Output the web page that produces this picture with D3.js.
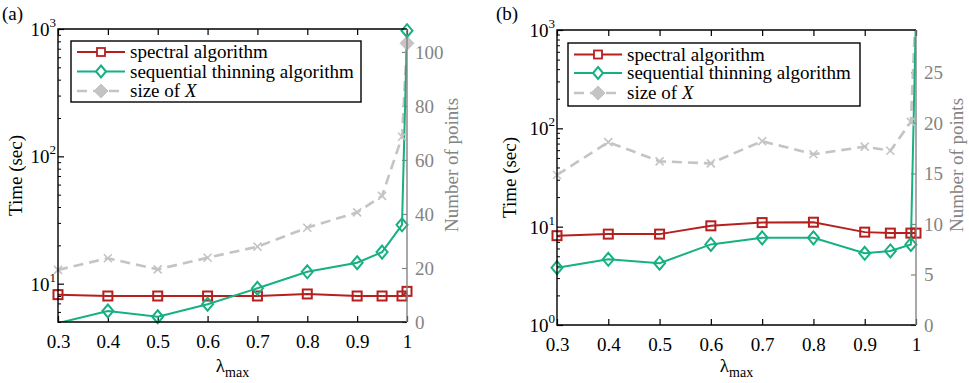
<!DOCTYPE html>
<html>
<head>
<meta charset="utf-8">
<script src="https://cdn.jsdelivr.net/npm/d3@7"></script>
<style>
  body { margin: 0; background: #fff; }
  svg text { font-family: "Liberation Serif", "Times New Roman", Times, "DejaVu Serif", serif !important; }
</style>
</head>
<body>
<div id="chart"></div>
<script>
// dimensions de la figure
const width = 969, height = 383;

// valeurs de lambda_max
const lambdas = [0.3, 0.4, 0.5, 0.6, 0.7, 0.8, 0.9, 0.95, 0.99, 1];
const xTicks = [0.3, 0.4, 0.5, 0.6, 0.7, 0.8, 0.9, 1];

// panneau (a)
const spectralA = [8.2, 8.0, 8.0, 8.0, 8.0, 8.3, 8.0, 8.0, 8.0, 8.7];
const thinningA = [4.9, 6.1, 5.5, 6.9, 9.2, 12.4, 14.6, 17.7, 29, 970];
const sizeA = [19.3, 23.6, 19.5, 23.8, 27.9, 34.9, 40.6, 46.7, 68.6, 103.2];
const timeTicksA = [1, 2, 3];          // exposants 10^k
const pointTicksA = [0, 20, 40, 60, 80, 100];

// panneau (b)
const spectralB = [8.1, 8.4, 8.4, 10.2, 11.0, 11.1, 8.8, 8.6, 8.6, 8.6];
const thinningB = [3.83, 4.66, 4.25, 6.6, 7.7, 7.7, 5.36, 5.66, 6.6, 1500];
const sizeB = [14.85, 18.1, 16.2, 16.0, 18.2, 16.9, 17.65, 17.25, 20.1, 32];
const timeTicksB = [0, 1, 2, 3];
const pointTicksB = [0, 5, 10, 15, 20, 25];

const legendLabels = ["spectral algorithm", "sequential thinning algorithm", "size of "];

const red = "#b5201f", green = "#17b083", grey = "#c4c4c4", axisGrey = "#848484";
const serif = "'Liberation Serif', 'Times New Roman', Times, 'DejaVu Serif', serif";

const svg = d3.select("#chart").append("svg")
    .attr("width", width)
    .attr("height", height)
    .attr("font-family", serif);
svg.append("rect").attr("width", width).attr("height", height).attr("fill", "#fff");

const panels = [
  { id: "a", tag: "(a)", tagX: 2, left: 58, right: 407, top: 29, bottom: 322,
    yDomain: [5, 1000], y2Domain: [0, 108.5],
    spectral: spectralA, thinning: thinningA, size: sizeA,
    timeTicks: timeTicksA, pointTicks: pointTicksA,
    legend: { x: 71, y: 41, w: 290, h: 61, rows: [52, 71.5, 91] },
    timeLabelX: 16, pointLabelX: 452, pointLabelY: 165 },
  { id: "b", tag: "(b)", tagX: 496, left: 557, right: 916, top: 30, bottom: 325,
    yDomain: [1, 1000], y2Domain: [0, 29.2],
    spectral: spectralB, thinning: thinningB, size: sizeB,
    timeTicks: timeTicksB, pointTicks: pointTicksB,
    legend: { x: 568, y: 43, w: 292, h: 63, rows: [54.5, 73, 93] },
    timeLabelX: 510, pointLabelX: 957, pointLabelY: 165 }
];

panels.forEach(p => {
  const g = svg.append("g");
  const x = d3.scaleLinear().domain([0.3, 1]).range([p.left, p.right]);
  const y = d3.scaleLog().domain(p.yDomain).range([p.bottom, p.top]);
  const y2 = d3.scaleLinear().domain(p.y2Domain).range([p.bottom, p.top]);

  g.append("clipPath").attr("id", "clip-" + p.id)
    .append("rect")
    .attr("x", p.left).attr("y", p.top)
    .attr("width", p.right - p.left).attr("height", p.bottom - p.top);

  // axe du bas
  const xAxis = g.append("g")
    .attr("transform", `translate(0,${p.bottom})`)
    .call(d3.axisBottom(x).tickValues(xTicks).tickSize(-6).tickPadding(13)
      .tickFormat(d => d === 1 ? "1" : d3.format(".1f")(d)));
  xAxis.attr("font-family", serif).attr("font-size", 19);
  xAxis.select(".domain").remove();
  xAxis.selectAll("line").attr("stroke", "#000").attr("stroke-width", 1.2);
  xAxis.selectAll("text").attr("fill", "#000");

  // axe du haut
  const topAxis = g.append("g")
    .attr("transform", `translate(0,${p.top})`)
    .call(d3.axisTop(x).tickValues(xTicks).tickSize(-6).tickFormat(""));
  topAxis.select(".domain").remove();
  topAxis.selectAll("line").attr("stroke", "#000").attr("stroke-width", 1.2);

  // axe gauche (log)
  const [lo, hi] = p.yDomain;
  const minors = [];
  for (let e = Math.floor(Math.log10(lo)); e < Math.log10(hi); e++) {
    for (let m = 2; m <= 9; m++) {
      const v = m * Math.pow(10, e);
      if (v >= lo && v <= hi) minors.push(v);
    }
  }
  const minorAxis = g.append("g")
    .attr("transform", `translate(${p.left},0)`)
    .call(d3.axisLeft(y).tickValues(minors).tickSize(-3).tickFormat(""));
  minorAxis.select(".domain").remove();
  minorAxis.selectAll("line").attr("stroke", "#000").attr("stroke-width", 1);

  const majors = p.timeTicks.map(k => Math.pow(10, k));
  const yAxis = g.append("g")
    .attr("transform", `translate(${p.left},0)`)
    .call(d3.axisLeft(y).tickValues(majors).tickSize(-6).tickFormat(""));
  yAxis.select(".domain").remove();
  yAxis.selectAll("line").attr("stroke", "#000").attr("stroke-width", 1.2);

  p.timeTicks.forEach(k => {
    const t = g.append("text")
      .attr("x", p.left - 2)
      .attr("y", y(Math.pow(10, k)) + 7)
      .attr("text-anchor", "end")
      .attr("font-size", 19);
    t.append("tspan").text("10");
    t.append("tspan").attr("font-size", 13).attr("dy", -9).text(k);
  });

  // axe droit (nombre de points)
  const rAxis = g.append("g")
    .attr("transform", `translate(${p.right},0)`)
    .call(d3.axisRight(y2).tickValues(p.pointTicks).tickSize(-5).tickPadding(8));
  rAxis.attr("font-family", serif).attr("font-size", 19);
  rAxis.select(".domain").remove();
  rAxis.selectAll("line").attr("stroke", axisGrey).attr("stroke-width", 1.2);
  rAxis.selectAll("text").attr("fill", axisGrey);

  // séries
  const plot = g.append("g").attr("clip-path", `url(#clip-${p.id})`);

  const sizeLine = d3.line().x((d, i) => x(lambdas[i])).y(d => y2(d));
  plot.append("path").datum(p.size)
    .attr("d", sizeLine)
    .attr("fill", "none").attr("stroke", grey)
    .attr("stroke-width", 2.6).attr("stroke-dasharray", "10,6");

  const timeLine = d3.line().x((d, i) => x(lambdas[i])).y(d => y(d));
  plot.append("path").datum(p.spectral)
    .attr("d", timeLine)
    .attr("fill", "none").attr("stroke", red).attr("stroke-width", 2);
  plot.append("path").datum(p.thinning)
    .attr("d", timeLine)
    .attr("fill", "none").attr("stroke", green).attr("stroke-width", 2);

  const inY = (v, s) => { const d = s.domain(); return v >= d[0] && v <= d[1]; };

  // marqueurs gris (croix, losange plein au dernier point)
  p.size.forEach((v, i) => {
    if (!inY(v, y2)) return;
    const cx = x(lambdas[i]), cy = y2(v);
    if (i === p.size.length - 1) {
      g.append("path")
        .attr("d", `M${cx},${cy - 7}L${cx + 7},${cy}L${cx},${cy + 7}L${cx - 7},${cy}Z`)
        .attr("fill", grey).attr("stroke", grey);
    } else {
      g.append("path")
        .attr("d", `M${cx - 4},${cy - 4}L${cx + 4},${cy + 4}M${cx - 4},${cy + 4}L${cx + 4},${cy - 4}`)
        .attr("stroke", grey).attr("stroke-width", 1.6);
    }
  });

  p.spectral.forEach((v, i) => {
    if (!inY(v, y)) return;
    const cx = x(lambdas[i]), cy = y(v);
    g.append("rect")
      .attr("x", cx - 4.5).attr("y", cy - 4.5)
      .attr("width", 9).attr("height", 9)
      .attr("fill", "none").attr("stroke", red).attr("stroke-width", 2);
  });

  p.thinning.forEach((v, i) => {
    if (!inY(v, y)) return;
    const cx = x(lambdas[i]), cy = y(v);
    g.append("path")
      .attr("d", `M${cx},${cy - 6.5}L${cx + 5.5},${cy}L${cx},${cy + 6.5}L${cx - 5.5},${cy}Z`)
      .attr("fill", "none").attr("stroke", green).attr("stroke-width", 2);
  });

  // cadre
  g.append("path")
    .attr("d", `M${p.right},${p.top}H${p.left}V${p.bottom}H${p.right}`)
    .attr("fill", "none").attr("stroke", "#000").attr("stroke-width", 1.4);
  g.append("line")
    .attr("x1", p.right).attr("x2", p.right)
    .attr("y1", p.top).attr("y2", p.bottom)
    .attr("stroke", axisGrey).attr("stroke-width", 1.4);

  // titres des axes
  const xl = g.append("text")
    .attr("x", (p.left + p.right) / 2)
    .attr("y", 372)
    .attr("text-anchor", "middle")
    .attr("font-size", 19);
  xl.append("tspan").text("λ");
  xl.append("tspan").attr("font-size", 14).attr("dy", 5).text("max");

  g.append("text")
    .attr("transform", `translate(${p.timeLabelX + 6},${(p.top + p.bottom) / 2}) rotate(-90)`)
    .attr("text-anchor", "middle")
    .attr("font-size", 19)
    .text("Time (sec)");

  g.append("text")
    .attr("transform", `translate(${p.pointLabelX + 6},${p.pointLabelY}) rotate(-90)`)
    .attr("text-anchor", "middle")
    .attr("font-size", 19)
    .attr("fill", axisGrey)
    .text("Number of points");

  g.append("text")
    .attr("x", p.tagX).attr("y", 20)
    .attr("font-size", 19)
    .text(p.tag);

  // légende
  const L = p.legend;
  g.append("rect")
    .attr("x", L.x).attr("y", L.y).attr("width", L.w).attr("height", L.h)
    .attr("fill", "#fff").attr("stroke", "#000").attr("stroke-width", 1.4);
  const sx0 = L.x + 6, sx1 = L.x + 54, mx = (sx0 + sx1) / 2, tx = L.x + 59;

  g.append("line").attr("x1", sx0).attr("x2", sx1).attr("y1", L.rows[0]).attr("y2", L.rows[0])
    .attr("stroke", red).attr("stroke-width", 2);
  g.append("rect").attr("x", mx - 4).attr("y", L.rows[0] - 4).attr("width", 8).attr("height", 8)
    .attr("fill", "#fff").attr("stroke", red).attr("stroke-width", 1.8);

  g.append("line").attr("x1", sx0).attr("x2", sx1).attr("y1", L.rows[1]).attr("y2", L.rows[1])
    .attr("stroke", green).attr("stroke-width", 2);
  g.append("path")
    .attr("d", `M${mx},${L.rows[1] - 6}L${mx + 5},${L.rows[1]}L${mx},${L.rows[1] + 6}L${mx - 5},${L.rows[1]}Z`)
    .attr("fill", "#fff").attr("stroke", green).attr("stroke-width", 2);

  g.append("line").attr("x1", sx0).attr("x2", sx1).attr("y1", L.rows[2]).attr("y2", L.rows[2])
    .attr("stroke", grey).attr("stroke-width", 2.6).attr("stroke-dasharray", "10,6");
  g.append("path")
    .attr("d", `M${mx},${L.rows[2] - 7}L${mx + 7},${L.rows[2]}L${mx},${L.rows[2] + 7}L${mx - 7},${L.rows[2]}Z`)
    .attr("fill", grey).attr("stroke", grey);

  legendLabels.forEach((lab, i) => {
    const t = g.append("text")
      .attr("x", tx).attr("y", L.rows[i] + 6)
      .attr("font-size", 19)
      .text(lab);
    if (i === 2) t.append("tspan").attr("font-style", "italic").text("X");
  });
});
</script>
</body>
</html>
